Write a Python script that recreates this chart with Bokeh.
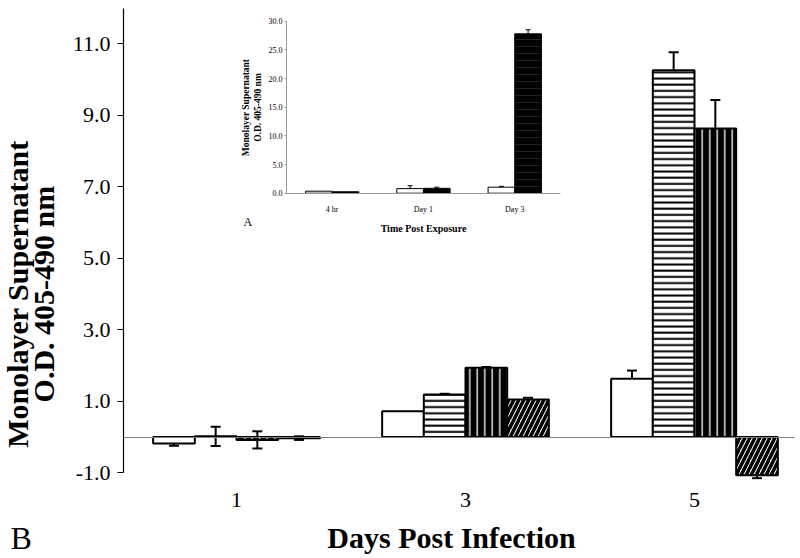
import math
from bokeh.plotting import figure
from bokeh.models import (Range1d, LinearAxis, FixedTicker, PrintfTickFormatter,
                          Label, ColumnDataSource, Whisker, TeeHead)
from bokeh.embed import file_html
from bokeh.resources import INLINE

# ---------------- data (main panel B) ----------------
days = [1, 3, 5]
day_labels = ["1", "3", "5"]
s_open = [-0.18, 0.72, 1.63]
s_horiz = [0.02, 1.19, 10.26]
s_vert = [-0.08, 1.94, 8.63]
s_diag = [-0.03, 1.05, -1.07]
e_open = [0.06, 0.0, 0.23]
e_horiz = [0.27, 0.02, 0.50]
e_vert = [0.24, 0.02, 0.80]
e_diag = [0.05, 0.05, 0.08]
y_ticks = [-1, 1, 3, 5, 7, 9, 11]

# ---------------- data (inset panel A) ----------------
inset_pos = [0.5, 1.5, 2.5]
inset_labels = ["4 hr", "Day 1", "Day 3"]
inset_open = [0.35, 0.80, 1.05]
inset_solid = [0.25, 0.85, 27.8]
inset_open_err = [0.0, 0.50, 0.15]
inset_solid_err = [0.0, 0.20, 0.70]
inset_ticks = [0, 5, 10, 15, 20, 25, 30]

SERIF = "Liberation Serif"
X0 = 0.0131  # left end of main axis (data)

p = figure(width=800, height=558, x_range=Range1d(-1.0612, 5.9258), y_range=Range1d(-3.397, 12.211),
           output_backend="svg", toolbar_location=None, x_axis_type=None, y_axis_type=None,
           min_border_left=0, min_border_right=0, min_border_top=0, min_border_bottom=0)
p.outline_line_color = None
p.background_fill_color = "white"
p.border_fill_color = "white"

# main x axis (labels only) at y = -1
xa = LinearAxis(fixed_location=-1, bounds=(X0, 5.742), ticker=FixedTicker(ticks=days))
xa.major_label_overrides = {d: l for d, l in zip(days, day_labels)}
xa.axis_line_color = None
xa.major_tick_line_color = None
xa.minor_tick_line_color = None
xa.major_label_text_font = SERIF
xa.major_label_text_font_size = "22px"
xa.major_label_text_color = "black"
xa.major_label_standoff = 14
xa.axis_label = "Days Post Infection"
xa.axis_label_text_font = SERIF
xa.axis_label_text_font_style = "bold"
xa.axis_label_text_font_size = "30px"
xa.axis_label_text_color = "black"
xa.axis_label_standoff = 11
p.add_layout(xa, "below")

# zero line
za = LinearAxis(fixed_location=0, bounds=(X0, 5.87), ticker=FixedTicker(ticks=[]))
za.axis_line_color = "#808080"
za.axis_line_width = 1
za.major_tick_line_color = None
za.minor_tick_line_color = None
za.major_label_text_font_size = "0px"
p.add_layout(za, "below")

# main y axis
ya = LinearAxis(fixed_location=X0, bounds=(-1, 12), ticker=FixedTicker(ticks=y_ticks),
                formatter=PrintfTickFormatter(format="%.1f"))
ya.axis_line_color = "black"
ya.axis_line_width = 1.2
ya.major_tick_out = 6
ya.major_tick_in = 0
ya.major_tick_line_color = "black"
ya.minor_tick_line_color = None
ya.major_label_text_font = SERIF
ya.major_label_text_font_size = "22px"
ya.major_label_text_color = "black"
ya.major_label_standoff = 7
p.add_layout(ya, "left")

w = 0.364
series = [
    (s_open, e_open, dict(fill_color="white")),
    (s_horiz, e_horiz, dict(fill_color="white", hatch_pattern="horizontal_line",
                            hatch_color="black", hatch_scale=6.2, hatch_weight=2)),
    (s_vert, e_vert, dict(fill_color="black", hatch_pattern="vertical_line",
                          hatch_color="white", hatch_scale=7.5, hatch_weight=1.3)),
    (s_diag, e_diag, dict(fill_color="white", hatch_pattern="right_diagonal_line",
                          hatch_color="black", hatch_scale=10, hatch_weight=3.5)),
]
for i, (vals, errs, style) in enumerate(series):
    off = (i - 1.5) * w
    xs = [d + off for d in days]
    p.vbar(x=xs, top=vals, bottom=0, width=w, line_color="black", line_width=2, **style)
    ex = [x for x, e in zip(xs, errs) if e > 0]
    lo = [v - e for v, e in zip(vals, errs) if e > 0]
    hi = [v + e for v, e in zip(vals, errs) if e > 0]
    src = ColumnDataSource(dict(x=ex, lo=lo, hi=hi))
    p.add_layout(Whisker(source=src, base="x", lower="lo", upper="hi",
                         line_color="black", line_width=2,
                         upper_head=TeeHead(size=10, line_width=2, line_color="black"),
                         lower_head=TeeHead(size=10, line_width=2, line_color="black")))

# y axis title
p.add_layout(Label(x=-0.799, y=4.0, text="Monolayer Supernatant\nO.D. 405-490 nm",
                   angle=math.pi / 2, text_align="center", text_baseline="middle",
                   text_font=SERIF, text_font_style="bold", text_font_size="30px",
                   text_line_height=0.76, text_color="black"))
p.add_layout(Label(x=-0.974, y=-2.81, text="B", text_align="left", text_baseline="middle",
                   text_font=SERIF, text_font_size="32px", text_color="black"))

# ---------------- inset ----------------
p.extra_x_ranges = {"ix": Range1d(-3.1325, 5.6298)}
p.extra_y_ranges = {"iy": Range1d(-63.72, 33.613)}

iw = 0.292
for vals, errs, fill, k in [(inset_open, inset_open_err, "white", -0.5),
                            (inset_solid, inset_solid_err, "black", 0.5)]:
    xs = [c + k * iw for c in inset_pos]
    kw = {}
    if fill == "black":
        kw = dict(hatch_pattern="horizontal_line", hatch_color="white",
                  hatch_alpha=0.2, hatch_scale=7, hatch_weight=0.7)
    p.vbar(x=xs, top=vals, bottom=0, width=iw, fill_color=fill, line_color="black",
           line_width=1, x_range_name="ix", y_range_name="iy", **kw)
    ex = [x for x, e in zip(xs, errs) if e > 0]
    lo = [v - e for v, e in zip(vals, errs) if e > 0]
    hi = [v + e for v, e in zip(vals, errs) if e > 0]
    src = ColumnDataSource(dict(x=ex, lo=lo, hi=hi))
    p.add_layout(Whisker(source=src, base="x", lower="lo", upper="hi",
                         x_range_name="ix", y_range_name="iy",
                         line_color="black", line_width=1,
                         upper_head=TeeHead(size=5, line_width=1, line_color="black"),
                         lower_head=TeeHead(size=5, line_width=1, line_color="black")))

iya = LinearAxis(x_range_name="ix", y_range_name="iy", fixed_location=0, bounds=(0, 30),
                 ticker=FixedTicker(ticks=inset_ticks),
                 formatter=PrintfTickFormatter(format="%.1f"))
iya.axis_line_color = "#999999"
iya.major_tick_line_color = "#999999"
iya.major_tick_out = 2
iya.major_tick_in = 0
iya.minor_tick_line_color = None
iya.major_label_text_font = SERIF
iya.major_label_text_font_size = "8px"
iya.major_label_text_color = "black"
iya.major_label_standoff = 2
iya.axis_label = "Monolayer Supernatant\nO.D. 405-490 nm"
iya.axis_label_text_font = SERIF
iya.axis_label_text_font_style = "bold"
iya.axis_label_text_font_size = "9.5px"
iya.axis_label_text_color = "black"
iya.axis_label_standoff = 3
p.add_layout(iya, "left")

ixa = LinearAxis(x_range_name="ix", y_range_name="iy", fixed_location=0, bounds=(0, 3),
                 ticker=FixedTicker(ticks=inset_pos))
ixa.major_label_overrides = {c: l for c, l in zip(inset_pos, inset_labels)}
ixa.axis_line_color = "#999999"
ixa.major_tick_line_color = None
ixa.minor_tick_line_color = None
ixa.major_label_text_font = SERIF
ixa.major_label_text_font_size = "8px"
ixa.major_label_text_color = "black"
ixa.major_label_standoff = 6
ixa.axis_label = "Time Post Exposure"
ixa.axis_label_text_font = SERIF
ixa.axis_label_text_font_style = "bold"
ixa.axis_label_text_font_size = "10px"
ixa.axis_label_text_color = "black"
ixa.axis_label_standoff = 5
p.add_layout(ixa, "below")

p.add_layout(Label(x=-0.471, y=-5.11, text="A", x_range_name="ix", y_range_name="iy",
                   text_align="left", text_baseline="alphabetic",
                   text_font=SERIF, text_font_size="12px", text_color="black"))

open("out.html", "w").write(file_html(p, INLINE))
